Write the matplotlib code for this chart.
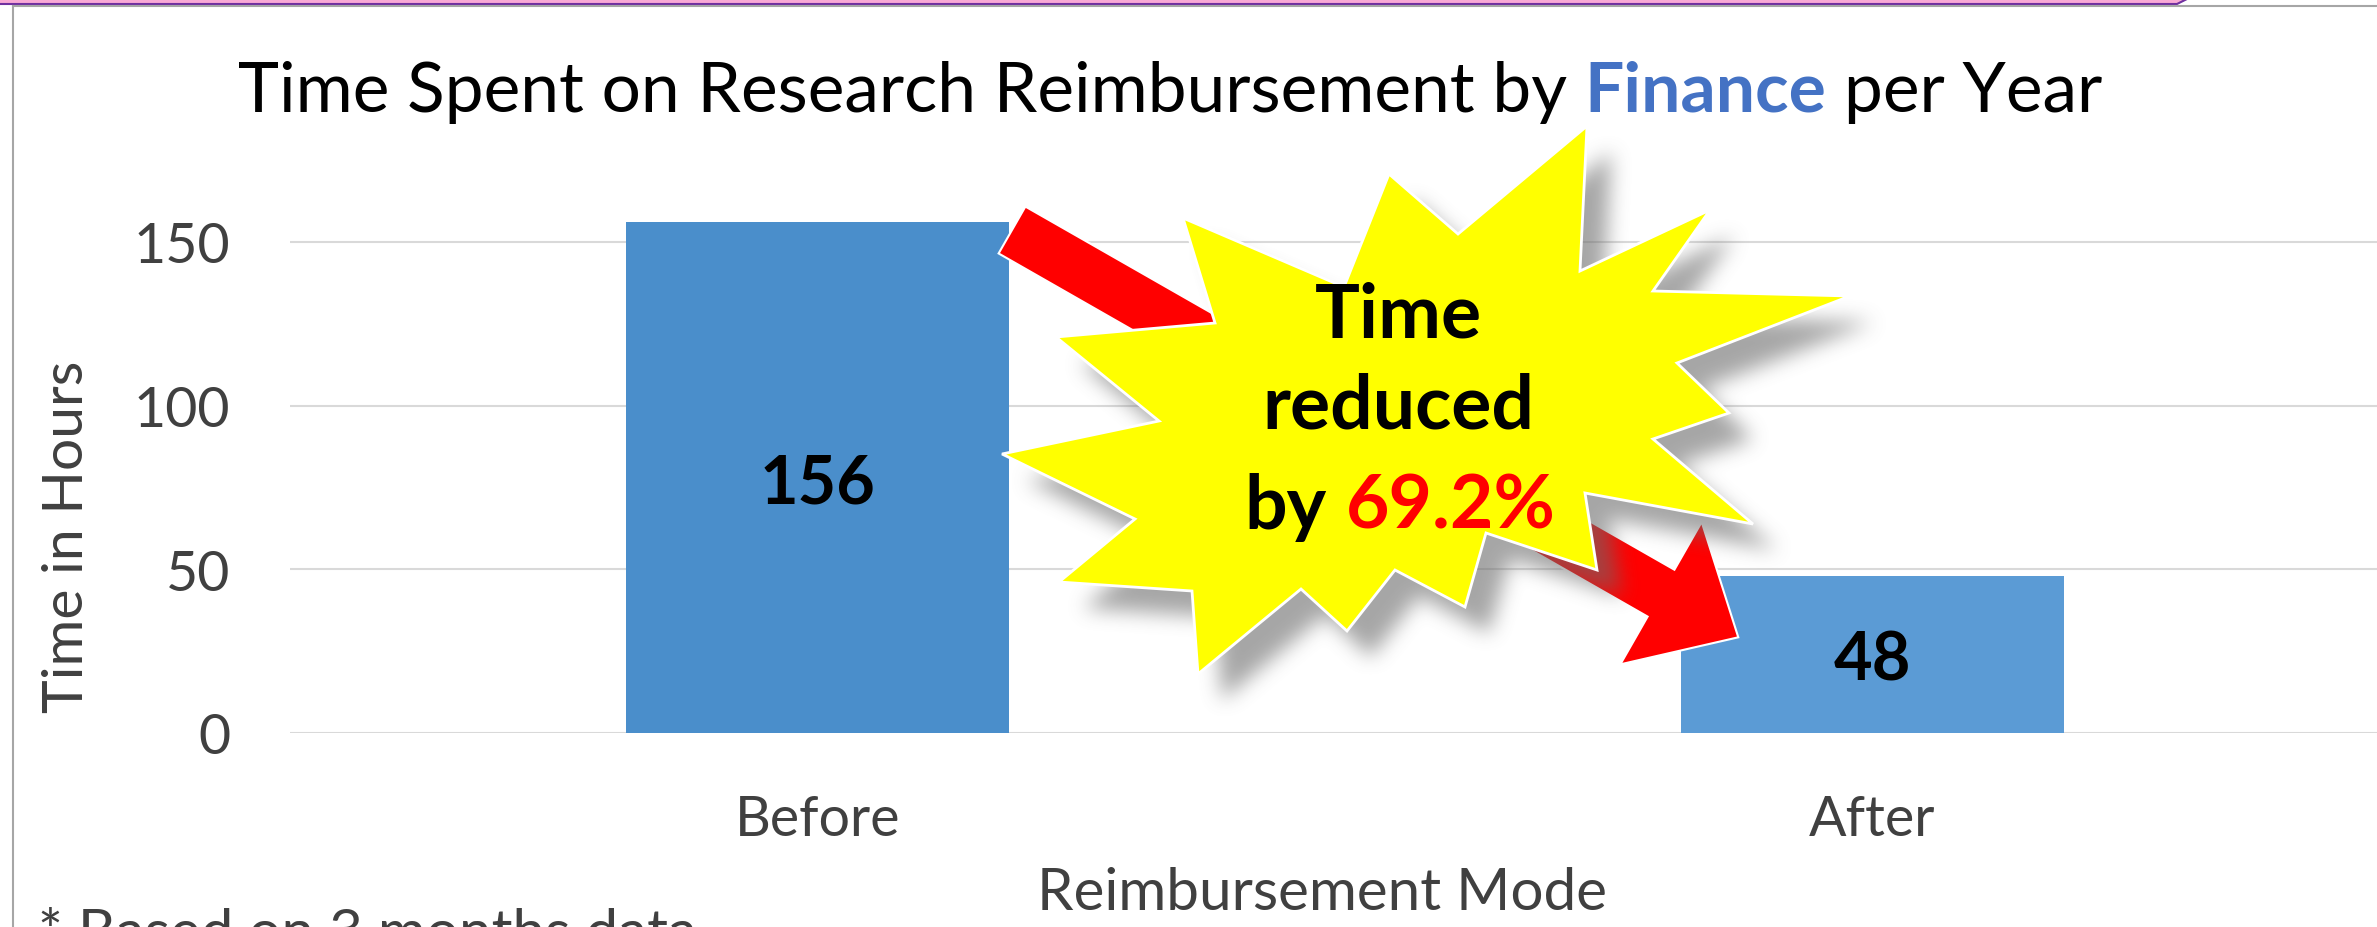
import numpy as np
import matplotlib
matplotlib.use("Agg")
import matplotlib.pyplot as plt
from matplotlib.patches import Polygon
from matplotlib.lines import Line2D
from matplotlib.transforms import Affine2D
from matplotlib.path import Path

W, H = 2377, 928

categories = ["Before", "After"]
hours = [156, 48]
bar_colors = ["#4A8ECB", "#5B9BD5"]
yticks = [0, 50, 100, 150]
reduction = "69.2%"

plt.rcParams["font.family"] = ["Lato", "DejaVu Sans"]
GREY = "#404040"

fig = plt.figure(figsize=(W / 100, H / 100), dpi=100)
# pixel coords, origin top-left (for the decorations)
px = Affine2D().scale(1 / W, -1 / H).translate(0, 1) + fig.transFigure

ax = fig.add_axes([290 / W, 1 - 734 / H, 2110 / W, 573 / H])
x = np.arange(len(categories))
ax.bar(x, hours, width=0.363, color=bar_colors, zorder=2)
ax.set_xlim(-0.5, 1.5)
ax.set_ylim(0, 175)
ax.set_yticks(yticks)
ax.set_xticks(x, categories)
ax.grid(axis="y", color="#D9D9D9", lw=1.5)
ax.set_axisbelow(True)
for s in ax.spines.values():
    s.set_visible(False)
ax.tick_params(length=0, labelsize=40, labelcolor=GREY)
ax.tick_params(axis="y", pad=43)
ax.tick_params(axis="x", pad=44)
ax.set_xlabel("Reimbursement Mode", fontsize=42, color=GREY)
ax.xaxis.label.set_va("baseline")
ax.xaxis.set_label_coords((1322 - 290) / 2110, (734 - 910) / 573)
ax.set_ylabel("Time in Hours", fontsize=41, color=GREY)
ax.yaxis.label.set_va("center")
ax.yaxis.set_label_coords((68 - 290) / 2110, (734 - 537) / 573)

for i, v in enumerate(hours):
    ax.text(i, v / 2, str(v), ha="center", va="center_baseline",
            fontsize=48, fontweight="bold", color="black", zorder=3)

# slide frame bits
fig.add_artist(Polygon([(0, 0), (2188, 0), (2178, 5), (0, 5)], closed=True,
                       transform=px, facecolor="#F9A9D5", edgecolor="none", zorder=1))
fig.add_artist(Line2D([0, 2177, 2189], [5, 5, -1], transform=px, color="#7030A0", lw=1.5, zorder=1))
fig.add_artist(Line2D([13, W], [7, 7], transform=px, color="#A6A6A6", lw=1.5, zorder=1))
fig.add_artist(Line2D([13, 13], [7, H], transform=px, color="#A6A6A6", lw=1.5, zorder=1))

renderer = fig.canvas.get_renderer()


def text_line(parts, xc, yb, size, zorder=10):
    """parts: list of (text, color, weight); drawn centred at xc on baseline yb"""
    ts = []
    for txt, col, wt in parts:
        ts.append(fig.text(0, yb, txt, transform=px, ha="left", va="baseline",
                           fontsize=size, color=col, fontweight=wt, zorder=zorder))
    a = fig.text(0, 0, "xx", fontsize=size)
    b = fig.text(0, 0, "x x", fontsize=size)
    gap = b.get_window_extent(renderer).width - a.get_window_extent(renderer).width
    a.remove()
    b.remove()
    ws = [t.get_window_extent(renderer).width for t in ts]
    left = xc - (sum(ws) + gap * (len(ts) - 1)) / 2
    for t, w in zip(ts, ws):
        t.set_x(left)
        left += w + gap


text_line([("Time Spent on Research Reimbursement by", "black", "normal"),
           ("Finance", "#4472C4", "bold"),
           ("per Year", "black", "normal")], 1170, 112, 50)

fig.text(38 / W, 1 - 951 / H, "* Based on 3 months data", fontsize=42,
         color=GREY, va="baseline")


def arrow_poly(tail, d, length, shaft_w, head_w, head_l):
    d = np.array(d, float)
    d /= np.hypot(*d)
    n = np.array([-d[1], d[0]])
    t = np.array(tail, float)
    base = t + d * (length - head_l)
    tip = t + d * length
    pts = [t + n * shaft_w / 2, base + n * shaft_w / 2, base + n * head_w / 2, tip,
           base - n * head_w / 2, base - n * shaft_w / 2, t - n * shaft_w / 2]
    return np.array(pts)


for tail, length in [((1012, 231), 360), ((1470, 485), 309)]:
    fig.add_artist(Polygon(arrow_poly(tail, (0.868, 0.496), length, 54, 164, 89),
                           closed=True, transform=px, facecolor="#FF0000",
                           edgecolor="white", lw=1.5, zorder=5))

star = np.array([(1587, 127), (1580, 272), (1710, 211), (1653, 292), (1850, 297),
                 (1677, 364), (1729, 414), (1653, 440), (1753, 525), (1585, 494),
                 (1597, 571), (1486, 534), (1465, 608), (1395, 571), (1347, 632),
                 (1301, 590), (1198, 675), (1192, 592), (1059, 583), (1135, 520),
                 (1002, 455), (1159, 422), (1056, 338), (1215, 324), (1183, 219),
                 (1344, 288), (1389, 175), (1458, 235)], float)

# blurred drop shadow under the star
x0, y0, sw, sh = 940, 90, 1020, 680
gx, gy = np.meshgrid(np.arange(sw) + x0 + 0.5, np.arange(sh) + y0 + 0.5)
mask = Path(star + [24, 26]).contains_points(
    np.column_stack([gx.ravel(), gy.ravel()])).reshape(sh, sw).astype(float)


def box(a, r, axis):
    a = np.moveaxis(a, axis, -1)
    p = np.pad(a, [(0, 0), (r + 1, r)])
    c = np.cumsum(p, axis=-1)
    out = (c[:, 2 * r + 1:] - c[:, :-(2 * r + 1)]) / (2 * r + 1)
    return np.moveaxis(out, -1, axis)


for _ in range(3):
    mask = box(box(mask, 9, 0), 9, 1)
img = np.zeros((sh, sw, 4))
img[..., :3] = 0.42
img[..., 3] = mask * 0.6
sim = fig.figimage(img, xo=x0, yo=H - (y0 + sh), origin="upper")
sim.set_zorder(6)

fig.add_artist(Polygon(star, closed=True, transform=px, facecolor="#FFFF00",
                       edgecolor="white", lw=2, zorder=7))

text_line([("Time", "black", "bold")], 1398, 338, 54)
text_line([("reduced", "black", "bold")], 1398, 429, 54)
text_line([("by", "black", "bold"), (reduction, "#FF0000", "bold")], 1400, 529, 54)

fig.savefig("out.png", dpi=100)
